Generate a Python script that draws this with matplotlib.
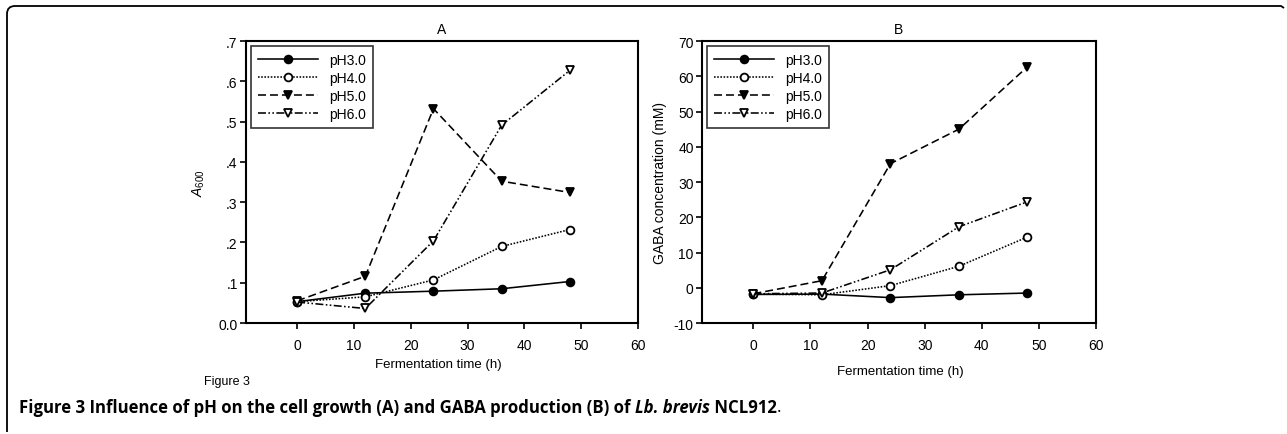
import matplotlib
matplotlib.use("Agg")
import matplotlib.pyplot as plt
from matplotlib.path import Path
from matplotlib.patches import PathPatch
from matplotlib.ticker import FixedLocator, FixedFormatter

plt.rcParams['font.family'] = ['Liberation Sans', 'DejaVu Sans']
plt.rcParams['mathtext.fontset'] = 'custom'
plt.rcParams['mathtext.rm'] = 'Liberation Sans'
plt.rcParams['mathtext.it'] = 'Liberation Sans:italic'

# ---- data ----
time_h = [0, 12, 24, 36, 48]
series_names = ["pH3.0", "pH4.0", "pH5.0", "pH6.0"]

a600_ph3 = [0.053, 0.074, 0.079, 0.085, 0.103]
a600_ph4 = [0.053, 0.065, 0.107, 0.190, 0.232]
a600_ph5 = [0.055, 0.116, 0.532, 0.352, 0.324]
a600_ph6 = [0.052, 0.036, 0.204, 0.491, 0.627]

gaba_ph3 = [-1.9, -1.8, -2.8, -2.0, -1.5]
gaba_ph4 = [-1.8, -2.0, 0.6, 6.1, 14.4]
gaba_ph5 = [-1.7, 2.0, 35.2, 45.0, 62.7]
gaba_ph6 = [-1.7, -1.5, 5.1, 17.3, 24.4]

x_ticks = [0, 10, 20, 30, 40, 50, 60]
a_yticks = [0.0, 0.1, 0.2, 0.3, 0.4, 0.5, 0.6, 0.7]
a_yticklabels = ["0.0", ".1", ".2", ".3", ".4", ".5", ".6", ".7"]
b_yticks = [-10, 0, 10, 20, 30, 40, 50, 60, 70]
b_yticklabels = ["-10", "0", "10", "20", "30", "40", "50", "60", "70"]

styles = [
    dict(linestyle='-', marker='o', mfc='black', ms=5.6),
    dict(linestyle=(0, (1, 1)), marker='o', mfc='white', ms=5.6),
    dict(linestyle=(0, (5, 2.5)), marker='v', mfc='black', ms=6.2),
    dict(linestyle=(0, (5, 1.5, 1, 1.5, 1, 1.5)), marker='v', mfc='white', ms=6.2),
]

W, H = 1287, 435
fig = plt.figure(figsize=(W / 100, H / 100), dpi=100)

def px_axes(left, top, right, bottom):
    return fig.add_axes([left / W, 1 - bottom / H, (right - left) / W, (bottom - top) / H])

axA = px_axes(246, 42, 638, 324)
axB = px_axes(702, 42, 1096, 324)

def draw_panel(ax, data, yticks, yticklabels, ylim, title, ylabel):
    for vals, name, st in zip(data, series_names, styles):
        ax.plot(time_h, vals, color='black', lw=1.15, mec='black', mew=1.3,
                label=name, **st)
    ax.set_xlim(-9, 60)
    ax.set_ylim(*ylim)
    ax.xaxis.set_major_locator(FixedLocator(x_ticks))
    ax.yaxis.set_major_locator(FixedLocator(yticks))
    ax.yaxis.set_major_formatter(FixedFormatter(yticklabels))
    ax.tick_params(axis='x', direction='out', length=4, width=1.2, pad=6.5, labelsize=10)
    ax.tick_params(axis='y', direction='out', length=4, width=1.2, pad=2, labelsize=10)
    for s in ax.spines.values():
        s.set_linewidth(1.5)
    ax.set_title(title, fontsize=10, pad=6)
    ax.set_ylabel(ylabel, fontsize=10)
    leg = ax.legend(loc='upper left', bbox_to_anchor=(0.0, 1.0), frameon=True, fancybox=False,
                    edgecolor='black', fontsize=10, handlelength=4.3, handletextpad=0.85,
                    borderaxespad=0.36, labelspacing=0.28, borderpad=0.5)
    leg.get_frame().set_linewidth(1.2)
    return ax

draw_panel(axA, [a600_ph3, a600_ph4, a600_ph5, a600_ph6], a_yticks, a_yticklabels,
           (0, 0.7), "A", r"$\mathit{A}_{\mathrm{600}}$")
draw_panel(axB, [gaba_ph3, gaba_ph4, gaba_ph5, gaba_ph6], b_yticks, b_yticklabels,
           (-10, 70), "B", "GABA concentration (mM)")

axA.yaxis.set_label_coords((207 - 246) / (638 - 246), 0.5)
axB.yaxis.set_label_coords((667 - 702) / (1096 - 702), 0.5)

fig.text(438 / W, 1 - 365 / H, "Fermentation time (h)", ha='center', va='center', fontsize=9.5)
fig.text(900 / W, 1 - 372 / H, "Fermentation time (h)", ha='center', va='center', fontsize=9.5)
fig.text(227 / W, 1 - 382 / H, "Figure 3", ha='center', va='center', fontsize=9)

# frame around figure (top + left with rounded corner)
r = 8
verts = [(7, 433), (7, 7 + r), (7, 7), (7 + r, 7), (1281, 7), (1284, 9)]
codes = [Path.MOVETO, Path.LINETO, Path.CURVE3, Path.CURVE3, Path.LINETO, Path.LINETO]
verts_f = [(x / W, 1 - y / H) for x, y in verts]
fig.patches.append(PathPatch(Path(verts_f, codes), transform=fig.transFigure,
                             fill=False, lw=1.3, edgecolor='black'))

# caption
cap_font = ['Open Sans', 'DejaVu Sans']
pieces = [
    ("Figure 3 Influence of pH on the cell growth (A) and GABA production (B) of ", 'bold', 'normal'),
    ("Lb. brevis", 'bold', 'italic'),
    (" NCL912", 'bold', 'normal'),
    (".", 'normal', 'normal'),
]
fig.canvas.draw()
renderer = fig.canvas.get_renderer()
xpos = 19
ycap = 408
for txt, wgt, sty in pieces:
    t = fig.text(xpos / W, 1 - ycap / H, txt, ha='left', va='center', fontsize=12.1,
                 family=cap_font, weight=wgt, style=sty)
    bb = t.get_window_extent(renderer)
    xpos += bb.width

fig.savefig("out.png", dpi=100)
